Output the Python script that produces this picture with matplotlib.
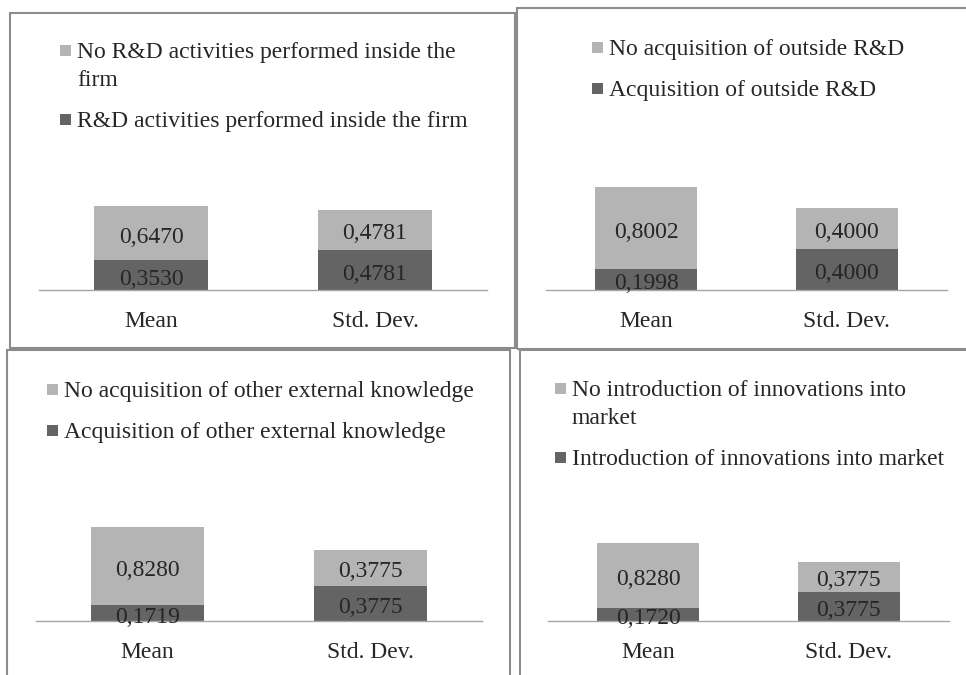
import matplotlib
matplotlib.use("Agg")
from matplotlib import pyplot as plt
from matplotlib.patches import Rectangle

plt.rcParams['font.family'] = ['Liberation Serif', 'DejaVu Serif']

W, H = 966, 675

categories = ["Mean", "Std. Dev."]

# panel 1: R&D inside the firm
p1_yes = [0.3530, 0.4781]
p1_no = [0.6470, 0.4781]
p1_labels = ["R&D activities performed inside the firm",
             "No R&D activities performed inside the\nfirm"]

# panel 2: outside R&D
p2_yes = [0.1998, 0.4000]
p2_no = [0.8002, 0.4000]
p2_labels = ["Acquisition of outside R&D",
             "No acquisition of outside R&D"]

# panel 3: other external knowledge
p3_yes = [0.1719, 0.3775]
p3_no = [0.8280, 0.3775]
p3_labels = ["Acquisition of other external knowledge",
             "No acquisition of other external knowledge"]

# panel 4: innovations into market
p4_yes = [0.1720, 0.3775]
p4_no = [0.8280, 0.3775]
p4_labels = ["Introduction of innovations into market",
             "No introduction of innovations into\nmarket"]

DARK = '#646464'
LIGHT = '#b4b4b4'
TXT = '#262626'
FS = 17
LINE_H = 28   # px between wrapped lines
ENTRY_H = 41  # px between legend entries


def px_rect(l, t, r, b):
    return [l / W, 1 - b / H, (r - l) / W, (b - t) / H]


def DrawLegend(fig, mx, y, labels, colors):
    """
    Excel style legend: small square next to the first line of the label
    """
    for lab, col in zip(labels, colors):
        fig.add_artist(Rectangle((mx / W, 1 - (y + 6) / H), 11 / W, 11 / H,
                                 transform=fig.transFigure, facecolor=col,
                                 edgecolor='none'))
        lines = lab.split('\n')
        for i, ln in enumerate(lines):
            fig.text((mx + 17) / W, 1 - (y + i * LINE_H) / H, ln,
                     fontsize=FS, color=TXT, ha='left', va='center_baseline')
        y += ENTRY_H + LINE_H * (len(lines) - 1)


def DrawPanel(fig, rect, ytop, yes, no, labels, leg_xy):
    ax = fig.add_axes(px_rect(*rect))
    b1 = ax.bar(range(len(categories)), yes, width=0.51, color=DARK)
    b2 = ax.bar(range(len(categories)), no, width=0.51, bottom=yes, color=LIGHT)
    fmt = lambda v: f"{v:.4f}".replace('.', ',')
    ax.bar_label(b1, labels=[fmt(v) for v in yes], label_type='center',
                 padding=-3, fontsize=FS, color=TXT)
    ax.bar_label(b2, labels=[fmt(v) for v in no], label_type='center',
                 padding=-3, fontsize=FS, color=TXT)
    ax.set_xlim(-0.5, 1.5)
    ax.set_ylim(0, ytop)
    ax.set_xticks(range(len(categories)), categories)
    ax.tick_params(axis='x', length=0, pad=15, labelsize=FS, labelcolor=TXT)
    ax.set_yticks([])
    for s in ['top', 'left', 'right']:
        ax.spines[s].set_visible(False)
    ax.spines['bottom'].set_color('#a6a6a6')
    ax.spines['bottom'].set_linewidth(1.0)
    ax.patch.set_alpha(0)
    DrawLegend(fig, leg_xy[0], leg_xy[1], [labels[1], labels[0]], [LIGHT, DARK])
    return ax


def DrawBorders(fig):
    boxes = [(10, 13, 515, 348), (517, 8, 990, 349),
             (7, 350, 510, 700), (520, 350, 990, 700)]
    for l, t, r, b in boxes:
        fig.add_artist(Rectangle((l / W, 1 - b / H), (r - l) / W, (b - t) / H,
                                 transform=fig.transFigure, fill=False,
                                 edgecolor='#8c8c8c', linewidth=1.5,
                                 clip_on=False))


if __name__ == "__main__":
    fig = plt.figure(figsize=(W / 100, H / 100), dpi=100)
    fig.patch.set_facecolor('white')
    DrawBorders(fig)
    DrawPanel(fig, (39, 150, 487, 290), 140 / 84, p1_yes, p1_no, p1_labels, (60, 50))
    DrawPanel(fig, (546, 150, 947, 290), 140 / 103, p2_yes, p2_no, p2_labels, (592, 47))
    DrawPanel(fig, (36, 480, 482, 621), 141 / 94, p3_yes, p3_no, p3_labels, (47, 389))
    DrawPanel(fig, (548, 480, 949, 621), 141 / 78, p4_yes, p4_no, p4_labels, (555, 388))
    plt.savefig("out.png", dpi=100)
